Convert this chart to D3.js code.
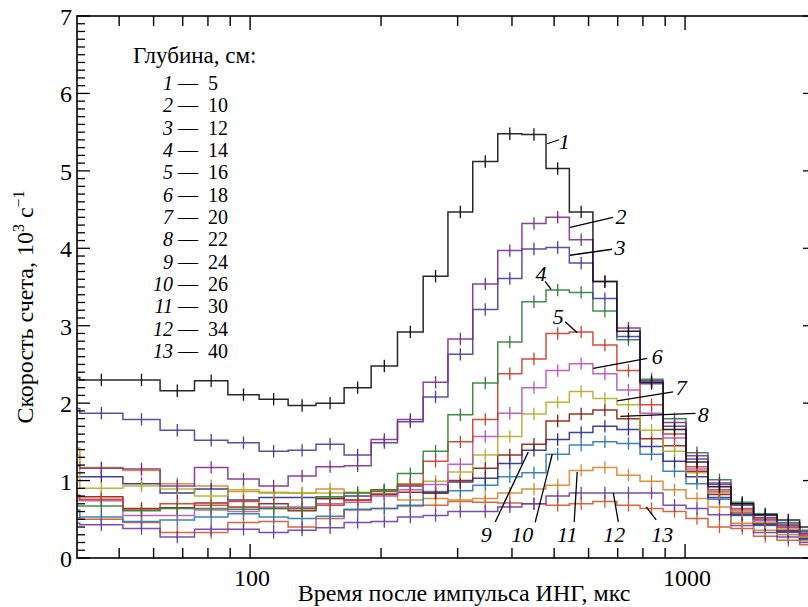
<!DOCTYPE html>
<html><head><meta charset="utf-8">
<script src="https://cdn.jsdelivr.net/npm/d3@7"></script>
<style>
body{margin:0;background:#fff}
svg{display:block;font-family:"Liberation Serif","Times New Roman","DejaVu Serif",serif}
svg text{font-family:"Liberation Serif","Times New Roman","DejaVu Serif",serif}
</style>
</head><body>
<svg id="c" width="808" height="607"></svg>
<script>
// ---------- data ----------
const binEdges = [35, 40.6, 51, 62.1, 74.5, 88.9, 104.9, 122.3, 141.8, 164.5, 189.8, 218.2, 250, 285, 325, 371, 421.6, 479, 542, 614, 697, 788, 890, 1005, 1129, 1275, 1437, 1627, 1834, 2070];
const seriesLabels = ["1","2","3","4","5","6","7","8","9","10","11","12","13"];
const depthsCm = [5,10,12,14,16,18,20,22,24,26,30,34,40];
const s1  = [2.33,2.30,2.30,2.16,2.29,2.11,2.05,1.97,2.00,2.20,2.48,2.92,3.64,4.47,5.12,5.48,5.47,5.03,4.47,3.57,2.93,2.27,1.66,1.24,0.92,0.70,0.56,0.49,0.40];
const s2  = [1.19,1.16,1.15,0.93,1.17,1.02,0.93,1.06,1.18,1.19,1.53,1.79,2.27,2.83,3.54,3.97,4.32,4.40,4.11,3.57,2.97,2.29,1.75,1.32,0.97,0.70,0.55,0.44,0.34];
const s3  = [1.93,1.87,1.79,1.65,1.52,1.49,1.38,1.39,1.47,1.33,1.49,1.76,2.08,2.63,3.21,3.61,3.99,4.01,3.81,3.35,2.86,2.25,1.70,1.28,0.95,0.68,0.52,0.42,0.32];
const s4  = [0.67,0.67,0.61,0.64,0.64,0.63,0.64,0.64,0.79,0.84,0.88,1.09,1.38,1.85,2.26,2.79,3.31,3.46,3.43,3.19,2.82,2.31,1.80,1.36,1.01,0.72,0.57,0.46,0.36];
const s5  = [0.78,0.76,0.62,0.70,0.68,0.73,0.64,0.64,0.68,0.75,0.88,0.95,1.25,1.50,1.79,2.38,2.57,2.90,2.92,2.75,2.42,1.98,1.60,1.18,0.88,0.64,0.50,0.40,0.30];
const s6  = [0.75,0.74,0.55,0.55,0.62,0.60,0.66,0.66,0.70,0.72,0.80,0.88,0.95,1.21,1.57,1.87,2.20,2.42,2.51,2.38,2.17,1.87,1.55,1.15,0.86,0.62,0.48,0.39,0.29];
const s7  = [1.33,0.90,0.93,0.89,0.80,0.88,0.85,0.84,0.84,0.85,0.87,0.96,0.99,1.11,1.33,1.57,1.86,2.01,2.15,2.06,1.98,1.65,1.38,1.10,0.84,0.60,0.46,0.37,0.27];
const s8  = [0.81,0.79,0.64,0.65,0.71,0.66,0.70,0.61,0.77,0.75,0.82,0.85,0.84,1.00,1.16,1.33,1.47,1.77,1.86,1.91,1.80,1.54,1.45,1.12,0.82,0.58,0.45,0.36,0.27];
const s9  = [1.05,1.05,0.96,0.84,0.89,0.75,0.78,0.78,0.77,0.80,0.86,0.93,0.84,0.98,1.03,1.22,1.39,1.53,1.62,1.70,1.66,1.44,1.25,1.05,0.78,0.56,0.43,0.34,0.25];
const s10 = [0.62,0.53,0.47,0.49,0.53,0.57,0.53,0.51,0.54,0.63,0.64,0.68,0.86,0.87,0.94,1.05,1.10,1.34,1.46,1.50,1.48,1.34,1.12,0.96,0.76,0.55,0.42,0.33,0.24];
const s11 = [1.42,1.17,1.13,0.96,0.93,0.86,0.84,0.84,0.89,0.84,0.83,0.75,0.77,0.75,0.77,0.84,0.89,0.94,1.13,1.17,1.07,0.99,0.88,0.77,0.66,0.45,0.36,0.30,0.22];
const s12 = [0.45,0.43,0.38,0.27,0.37,0.37,0.33,0.36,0.39,0.46,0.47,0.53,0.55,0.60,0.60,0.66,0.70,0.80,0.84,0.84,0.84,0.84,0.68,0.64,0.56,0.42,0.33,0.27,0.20];
const s13 = [0.52,0.50,0.46,0.33,0.33,0.46,0.47,0.40,0.51,0.62,0.64,0.67,0.68,0.73,0.72,0.71,0.70,0.68,0.70,0.73,0.68,0.64,0.60,0.51,0.40,0.38,0.28,0.23,0.17];
const seriesValues = [s1,s2,s3,s4,s5,s6,s7,s8,s9,s10,s11,s12,s13];
const seriesColors = ["#111111","#7d2d8c","#4b3a9e","#2e8036","#cf3b24","#b553b5","#aeae28","#8a1d0d","#2b2a8e","#2a76b2","#d6842c","#6a3ba8","#d4552e"];
const errHalf = [0.08,0.08,0.08,0.08,0.08,0.08,0.08,0.08,0.08,0.08,0.08,0.08,0.08];
const xTickLabels = [100, 1000];
const yTickLabels = [0,1,2,3,4,5,6,7];
// annotation anchors in data units (time, rate) with pixel offsets for pointer and text
const annotations = [
  {label:"1",  t:482, v:5.35, lx:12, ly:-4,  tx:17, ty:5},
  {label:"2",  t:544, v:4.27, lx:43, ly:-10, tx:51, ty:-3},
  {label:"3",  t:544, v:3.91, lx:42, ly:-6,  tx:50, ty:0},
  {label:"4",  t:492, v:3.47, lx:-6, ly:-8,  tx:-10, ty:-8},
  {label:"5",  t:565, v:2.91, lx:-12,ly:-11, tx:-19, ty:-9},
  {label:"6",  t:615, v:2.45, lx:54, ly:-10, tx:64, ty:-4},
  {label:"7",  t:698, v:2.03, lx:56, ly:-9,  tx:64, ty:-6},
  {label:"8",  t:710, v:1.83, lx:75, ly:-3,  tx:83, ty:6},
  {label:"9",  t:436, v:1.37, lx:-33,ly:70,  tx:-42, ty:90},
  {label:"10", t:495, v:1.34, lx:-17,ly:68,  tx:-30, ty:88},
  {label:"11", t:565, v:1.11, lx:-3, ly:50,  tx:-10, ty:70},
  {label:"12", t:684, v:0.84, lx:5,  ly:29,  tx:1,  ty:49},
  {label:"13", t:814, v:0.66, lx:10, ly:13,  tx:16, ty:35}
];

// ---------- scales ----------
const FONT = "Liberation Serif, Times New Roman, DejaVu Serif, serif";
const L = 77, R = 816, T = 16, B = 558;
const x = d3.scaleLog().domain([40, 2000]).range([L, R]);
const y = d3.scaleLinear().domain([0, 7]).range([B, T]);
const svg = d3.select("#c").attr("font-family", FONT);

svg.append("defs").append("clipPath").attr("id","clip")
  .append("rect").attr("x",L).attr("y",T).attr("width",R-L).attr("height",B-T);

// ---------- series ----------
const step = d3.line().x(d=>x(d[0])).y(d=>y(d[1])).curve(d3.curveStepAfter);
const gData = svg.append("g").attr("clip-path","url(#clip)");
const order = [12,11,10,9,8,7,6,5,4,3,2,1,0];
order.forEach(k=>{
  const vals = seriesValues[k];
  const pts = vals.map((v,i)=>[binEdges[i], v]);
  pts.push([binEdges[binEdges.length-1], vals[vals.length-1]]);
  const g = gData.append("g");
  g.append("path").attr("d", step(pts)).attr("fill","none")
    .attr("stroke", seriesColors[k]).attr("stroke-width",1.5).attr("stroke-opacity",0.9);
  g.selectAll("line.err").data(vals).join("line")
    .attr("x1",(v,i)=>x(Math.sqrt(binEdges[i]*binEdges[i+1])))
    .attr("x2",(v,i)=>x(Math.sqrt(binEdges[i]*binEdges[i+1])))
    .attr("y1",v=>y(v-errHalf[k])).attr("y2",v=>y(v+errHalf[k]))
    .attr("stroke", seriesColors[k]).attr("stroke-width",1.3);
});

// ---------- axes ----------
const axG = svg.append("g").attr("stroke","#000");
axG.append("rect").attr("x",L).attr("y",T).attr("width",R-L).attr("height",B-T)
  .attr("fill","none").attr("stroke-width",1.6);
const xt = x.ticks().filter(t=>t>40 && t<2000);
xt.forEach(t=>{
  const major = Math.abs(Math.log10(t) - Math.round(Math.log10(t))) < 1e-9;
  const len = major ? 14 : 10;
  axG.append("line").attr("x1",x(t)).attr("x2",x(t)).attr("y1",B).attr("y2",B-len).attr("stroke-width",1.4);
  axG.append("line").attr("x1",x(t)).attr("x2",x(t)).attr("y1",T).attr("y2",T+len).attr("stroke-width",1.4);
});
d3.range(0, 70.5, 1).forEach(k=>{
  const v = k/10;
  const major = k % 10 === 0;
  const len = major ? 13 : 8;
  axG.append("line").attr("x1",L).attr("x2",L+len).attr("y1",y(v)).attr("y2",y(v)).attr("stroke-width",1.3);
  axG.append("line").attr("x1",R).attr("x2",R-len).attr("y1",y(v)).attr("y2",y(v)).attr("stroke-width",1.3);
});
svg.selectAll("text.yt").data(yTickLabels).join("text")
  .attr("x",72).attr("y",v=>y(v)+9).attr("text-anchor","end")
  .attr("font-size",24).text(v=>v);
svg.selectAll("text.xt").data(xTickLabels).join("text")
  .attr("x",t=>x(t)+2).attr("y",586).attr("text-anchor","middle")
  .attr("font-size",24).text(t=>t);

// axis titles
svg.append("text").attr("x",464).attr("y",601).attr("text-anchor","middle")
  .attr("font-size",24).text("Время после импульса ИНГ, мкс");
const yl = svg.append("text").attr("transform","translate(33,307) rotate(-90)")
  .attr("text-anchor","middle").attr("font-size",24);
yl.append("tspan").text("Скорость счета, 10");
yl.append("tspan").attr("dy",-9).attr("font-size",16).text("3");
yl.append("tspan").attr("dy",9).text(" с");
yl.append("tspan").attr("dy",-9).attr("font-size",16).text("−1");

// ---------- legend ----------
svg.append("text").attr("x",133).attr("y",63).attr("font-size",23).text("Глубина, см:");
seriesLabels.forEach((lab,i)=>{
  const by = 90 + i*22.33;
  const t = svg.append("text").attr("y",by).attr("font-size",20);
  t.append("tspan").attr("x",173).attr("text-anchor","end").attr("font-style","italic").text(lab);
  t.append("tspan").attr("x",178).attr("text-anchor","start").text("—");
  t.append("tspan").attr("x",208).attr("text-anchor","start").text(depthsCm[i]);
});

// ---------- curve labels ----------
annotations.forEach(a=>{
  const ax = x(a.t), ay = y(a.v);
  svg.append("line").attr("x1",ax).attr("y1",ay).attr("x2",ax+a.lx).attr("y2",ay+a.ly)
    .attr("stroke","#000").attr("stroke-width",1.3);
  svg.append("text").attr("x",ax+a.tx).attr("y",ay+a.ty).attr("text-anchor","middle")
    .attr("font-size",22).attr("font-style","italic").text(a.label);
});
</script>
</body></html>
